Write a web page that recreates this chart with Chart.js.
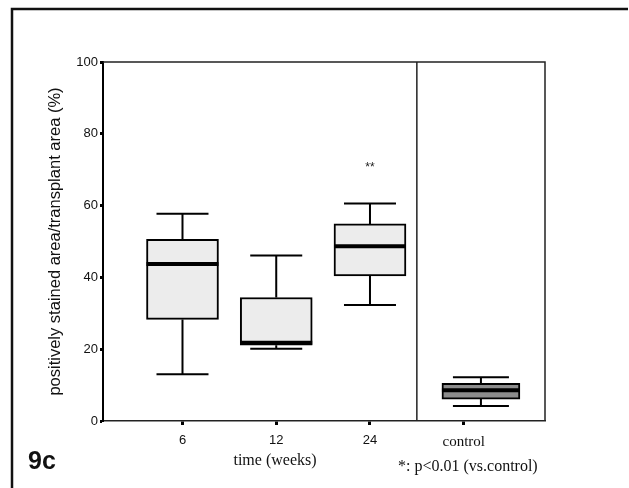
<!DOCTYPE html>
<html>
<head>
<meta charset="utf-8">
<script src="https://cdn.jsdelivr.net/npm/chart.js@4.4.1/dist/chart.umd.min.js"></script>
<style>
  html, body { margin: 0; padding: 0; background: #fff; }
  canvas { display: block; }
</style>
</head>
<body>
<canvas id="chartBox" width="629" height="488"></canvas>
<script>
// box plot values (% positively stained area)
const groupLabels = ['6', '12', '24', 'control'];
const whiskerLow = [13.0, 20.1, 32.3, 4.2];
const quart1 = [28.3, 21.1, 40.4, 6.1];
const medians = [43.7, 21.8, 48.7, 8.6];
const quart3 = [50.6, 34.4, 54.9, 10.5];
const whiskerHigh = [57.7, 46.1, 60.6, 12.2];
const markers = ['', '', '**', ''];
const yTicks = [0, 20, 40, 60, 80, 100];

const sans = "'Liberation Sans', Arial, sans-serif";
const serif = "'Liberation Serif', 'Times New Roman', serif";

// control sits in its own panel, to the right of the divider
const dividerAt = 3.5;
const xMin = 0.152;
const xMax = 4.867;

function boxPos(i) {
    if (groupLabels[i] === 'control') return (dividerAt + xMax) / 2;
    return i + 1;
}

const treatIdx = [0, 1, 2];
const ctrlIdx = [3];

const boxPlotPlugin = {
    id: 'boxPlotPlugin',
    beforeDraw(chart) {
        const c = chart.ctx;
        c.save();
        c.fillStyle = '#fff';
        c.fillRect(0, 0, chart.width, chart.height);
        // outer figure frame
        c.strokeStyle = '#111';
        c.lineWidth = 2.5;
        c.beginPath();
        c.moveTo(12, 488);
        c.lineTo(12, 9);
        c.lineTo(628, 9);
        c.stroke();
        c.restore();
    },
    afterDatasetsDraw(chart) {
        const c = chart.ctx;
        const xs = chart.scales.x;
        const ys = chart.scales.y;
        const area = chart.chartArea;
        c.save();

        // panel frame + divider
        c.strokeStyle = '#222';
        c.lineWidth = 1.5;
        c.beginPath();
        c.moveTo(area.left, area.top);
        c.lineTo(area.right, area.top);
        c.lineTo(area.right, area.bottom);
        c.stroke();
        const dx = xs.getPixelForValue(dividerAt);
        c.beginPath();
        c.moveTo(dx, area.top);
        c.lineTo(dx, area.bottom);
        c.stroke();

        groupLabels.forEach(function(label, i) {
            const cx = xs.getPixelForValue(boxPos(i));
            const isCtrl = label === 'control';
            const half = isCtrl ? 39 : 36;
            const cap = isCtrl ? 28 : 26;
            c.strokeStyle = '#000';
            c.lineWidth = 2;
            c.beginPath();
            c.moveTo(cx, ys.getPixelForValue(whiskerLow[i]));
            c.lineTo(cx, ys.getPixelForValue(quart1[i]));
            c.moveTo(cx, ys.getPixelForValue(quart3[i]));
            c.lineTo(cx, ys.getPixelForValue(whiskerHigh[i]));
            c.moveTo(cx - cap, ys.getPixelForValue(whiskerLow[i]));
            c.lineTo(cx + cap, ys.getPixelForValue(whiskerLow[i]));
            c.moveTo(cx - cap, ys.getPixelForValue(whiskerHigh[i]));
            c.lineTo(cx + cap, ys.getPixelForValue(whiskerHigh[i]));
            c.stroke();

            c.lineWidth = 4;
            c.beginPath();
            c.moveTo(cx - half, ys.getPixelForValue(medians[i]));
            c.lineTo(cx + half, ys.getPixelForValue(medians[i]));
            c.stroke();

            if (markers[i]) {
                c.fillStyle = '#222';
                c.font = '12px ' + sans;
                c.textAlign = 'center';
                c.textBaseline = 'middle';
                c.fillText(markers[i], cx, ys.getPixelForValue(70.5));
            }
        });

        // captions
        c.fillStyle = '#111';
        c.textBaseline = 'middle';
        c.textAlign = 'center';
        c.font = '16px ' + serif;
        c.fillText('time (weeks)', 275, 461);
        c.textAlign = 'left';
        c.fillText('*: p<0.01 (vs.control)', 398, 467);
        c.font = 'bold 25px ' + sans;
        c.fillText('9c', 28, 462);
        c.restore();
    }
};

new Chart(document.getElementById('chartBox').getContext('2d'), {
    type: 'bar',
    data: {
        datasets: [{
            data: treatIdx.map(i => ({ x: boxPos(i), y: [quart1[i], quart3[i]] })),
            backgroundColor: '#ececec',
            borderColor: '#000',
            borderWidth: 2,
            borderSkipped: false,
            barThickness: 72,
            grouped: false
        }, {
            data: ctrlIdx.map(i => ({ x: boxPos(i), y: [quart1[i], quart3[i]] })),
            backgroundColor: '#8c8c8c',
            borderColor: '#000',
            borderWidth: 2,
            borderSkipped: false,
            barThickness: 78,
            grouped: false
        }]
    },
    options: {
        responsive: false,
        animation: false,
        layout: { padding: { left: 46, top: 62, right: 84, bottom: 0 } },
        plugins: {
            legend: { display: false },
            tooltip: { enabled: false }
        },
        scales: {
            x: {
                type: 'linear',
                offset: false,
                min: xMin,
                max: xMax,
                afterBuildTicks: function(scale) {
                    scale.ticks = groupLabels.map((_, i) => ({ value: i + 1 }));
                },
                afterFit: function(scale) { scale.height = 67; },
                ticks: {
                    autoSkip: false,
                    maxRotation: 0,
                    padding: 8,
                    color: '#111',
                    callback: function(value) { return groupLabels[value - 1]; },
                    font: function(context) {
                        if (context.tick && context.tick.value === 4) return { family: serif, size: 15 };
                        return { family: sans, size: 13 };
                    }
                },
                grid: {
                    offset: false,
                    drawOnChartArea: false,
                    drawTicks: true,
                    tickLength: 4,
                    tickWidth: 3,
                    tickColor: '#000'
                },
                border: { color: '#222', width: 1.5 }
            },
            y: {
                min: 0,
                max: 100,
                afterBuildTicks: function(scale) {
                    scale.ticks = yTicks.map(v => ({ value: v }));
                },
                afterFit: function(scale) { scale.width = 57; },
                ticks: {
                    padding: 2,
                    color: '#111',
                    font: { family: sans, size: 13 }
                },
                grid: {
                    drawOnChartArea: false,
                    drawTicks: true,
                    tickLength: 3,
                    tickWidth: 3,
                    tickColor: '#000'
                },
                border: { color: '#000', width: 2 },
                title: {
                    display: true,
                    text: 'positively stained area/transplant area (%)',
                    color: '#111',
                    padding: 0,
                    font: { family: sans, size: 16.5 }
                }
            }
        }
    },
    plugins: [boxPlotPlugin]
});
</script>
</body>
</html>
